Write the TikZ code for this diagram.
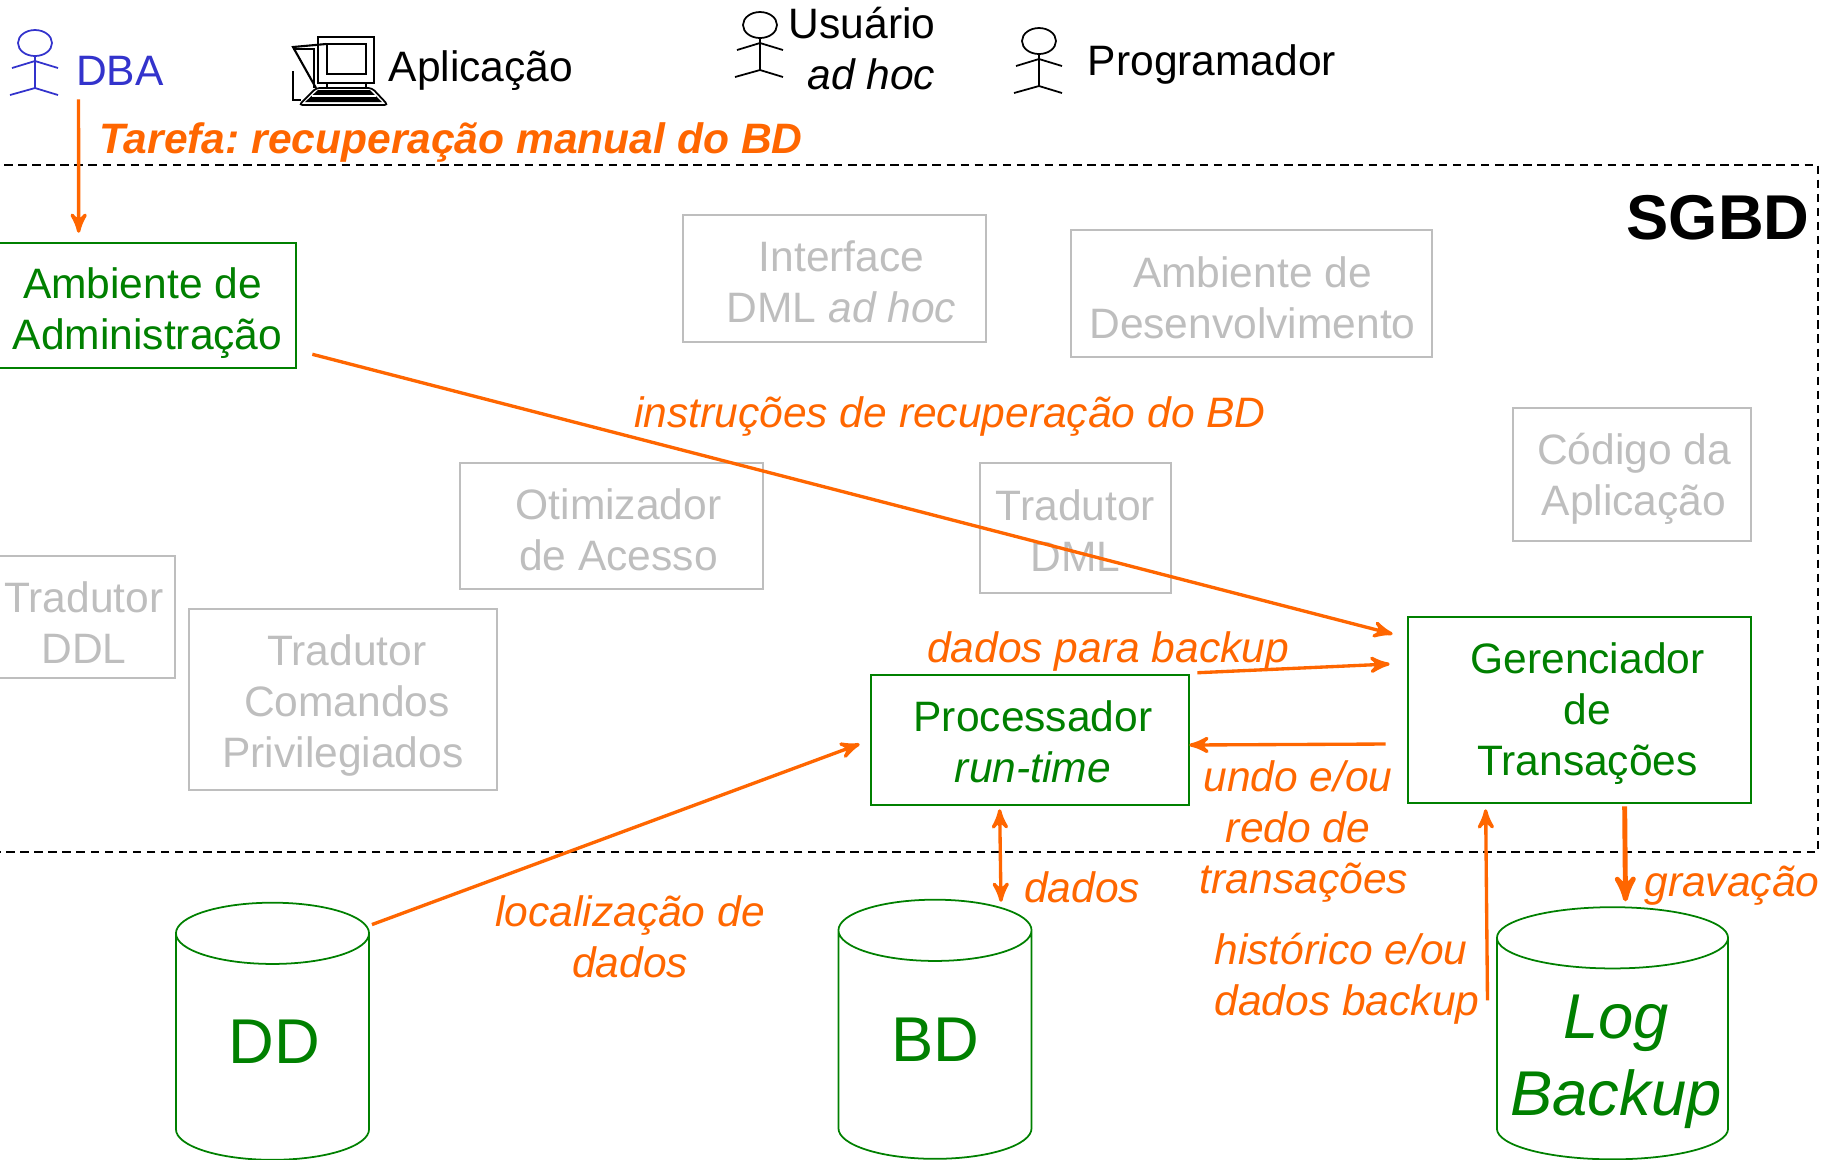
\documentclass[tikz,border=0pt]{standalone}
\usepackage{fontspec}
\setmainfont{Liberation Sans}
\usetikzlibrary{calc}
\usetikzlibrary{arrows}
\usetikzlibrary{shapes.geometric}
\definecolor{flowc}{RGB}{255,102,0}
\definecolor{activec}{RGB}{0,128,0}
\definecolor{idlec}{RGB}{190,190,190}
\definecolor{dbac}{RGB}{51,51,204}
\tikzset{>=stealth'}
\tikzset{lab/.style={inner sep=0pt, font=\fontsize{12.1}{14.5}\selectfont, align=center}}
\tikzset{flowlab/.style={lab, text=flowc, font=\fontsize{12.1}{14.5}\selectfont\itshape}}
\tikzset{activebox/.style={draw=activec, line width=0.7pt, inner sep=0pt}}
\tikzset{idlebox/.style={draw=idlec, line width=0.7pt, inner sep=0pt}}
\tikzset{activelab/.style={lab, text=activec}}
\tikzset{idlelab/.style={lab, text=idlec}}
\tikzset{flow/.style={draw=flowc, line width=0.95pt}}
\tikzset{store/.style={draw=activec, line width=0.5pt, inner sep=0pt, cylinder,
    shape border rotate=90, aspect=0.67, minimum width=1.93cm}}
\tikzset{storelab/.style={inner sep=0pt, text=activec, font=\fontsize{18}{22}\selectfont, align=center}}
\tikzset{actor/.pic={
    \draw[#1, line width=0.5pt] (0,0) ellipse [x radius=17, y radius=13];
    \draw[#1, line width=0.5pt] (0,13) -- (0,45);
    \draw[#1, line width=0.5pt] (-23,25) -- (0,18) -- (23,25);
    \draw[#1, line width=0.5pt] (-25,52) -- (0,45) -- (23,52);
}}

\begin{document}
\frenchspacing
\begin{tikzpicture}[x=0.01cm, y=-0.01cm]
\useasboundingbox (0,0) rectangle (1829,1159);

\draw[dashed, line width=0.45pt, dash pattern=on 2.4pt off 1.6pt] (-10,165) -- (1818,165) -- (1818,852) -- (-10,852);
\node[inner sep=0pt, font=\fontsize{18}{22}\selectfont\bfseries] (sgbd) at (1718,218) {SGBD};

\pic at (35,43) {actor=dbac};
\pic at (760,25) {actor=black};
\pic at (1039,41) {actor=black};

\node[lab, text=dbac] (dba) at (120,71) {DBA};
\node[lab] (aplic) at (481,71) {Aplicação};
\node[lab, align=right] (usuario) at (862,49) {Usuário\\\textit{ad hoc}};
\node[lab] (prog) at (1212,64) {Programador};

\draw[line width=0.7pt] (318,37) rectangle (374,83);
\draw[line width=0.7pt] (327,44) rectangle (366,74);
\draw[line width=0.7pt] (327,83) -- (327,89);
\draw[line width=0.7pt] (366,83) -- (366,89);
\draw[line width=0.6pt] (326,44) -- (293,47) -- (316,88);
\draw[line width=0.6pt] (293,49) -- (314,49) -- (314,88);
\draw[line width=0.7pt] (293,71) -- (293,100) -- (301,100);
\draw[line width=0.5pt, rounded corners=1pt] (299,105) -- (388,105) -- (372,88) -- (316,88) -- cycle;
\fill (305,102) -- (382,102) -- (370,90) -- (318,90) -- cycle;
\draw[white, line width=0.3pt] (312,96) -- (376,96);

\node[flowlab, font=\fontsize{12.1}{14.5}\selectfont\bfseries\itshape] (tarefa) at (451,142) {Tarefa: recuperação manual do BD};

\node[activebox, minimum width=3.01cm, minimum height=1.25cm] (admin) at (145.5,305.5) {};
\node[activelab] (admintxt) at ($(admin)+(2,8)$) {Ambiente de\hspace*{0.1cm}\\Administração};
\node[idlebox, minimum width=3.03cm, minimum height=1.27cm] (iface) at (834.5,278.5) {};
\node[idlelab] (ifacetxt) at ($(iface)+(7,3)$) {Interface\\DML \textit{ad hoc}};
\node[idlebox, minimum width=3.61cm, minimum height=1.27cm] (amb) at (1251.5,293.5) {};
\node[idlelab] (ambtxt) at ($(amb)+(1,4)$) {Ambiente de\\Desenvolvimento};
\node[idlebox, minimum width=2.38cm, minimum height=1.33cm] (codigo) at (1632,474.5) {};
\node[idlelab] (codigotxt) at ($(codigo)+(2,4)$) {Código da\\Aplicação};
\node[idlebox, minimum width=3.03cm, minimum height=1.26cm] (otim) at (611.5,526) {};
\node[idlelab] (otimtxt) at ($(otim)+(7,4)$) {Otimizador\\de Acesso};
\node[idlebox, minimum width=1.91cm, minimum height=1.30cm] (dml) at (1075.5,528) {};
\node[idlelab] (dmltxt) at ($(dml)+(0,3)$) {Tradutor\\DML};
\node[idlebox, minimum width=1.82cm, minimum height=1.22cm] (ddl) at (84,617) {};
\node[idlelab] (ddltxt) at ($(ddl)+(0,6)$) {Tradutor\\DDL};
\node[idlebox, minimum width=3.08cm, minimum height=1.81cm] (cmd) at (343,699.5) {};
\node[idlelab] (cmdtxt) at ($(cmd)+(4,6)$) {Tradutor\\Comandos\\Privilegiados\hspace*{0.08cm}};
\node[activebox, minimum width=3.18cm, minimum height=1.30cm] (proc) at (1030,740) {};
\node[activelab] (proctxt) at ($(proc)+(3,2)$) {Processador\\\textit{run-time}};
\node[activebox, minimum width=3.43cm, minimum height=1.86cm] (ger) at (1579.5,710) {};
\node[activelab] (gertxt) at ($(ger)+(8,4)$) {Gerenciador\\de\\Transações};

\node[store, minimum height=2.57cm] (dd) at (272.5,1047) {\phantom{\rule{26pt}{13pt}}};
\node[storelab] (ddtxt) at (274.5,1042) {DD};
\node[store, minimum height=2.59cm] (bd) at (935,1045) {\phantom{\rule{26pt}{13pt}}};
\node[storelab] (bdtxt) at (935,1040) {BD};
\node[store, minimum width=2.31cm, minimum height=2.52cm] (log) at (1612.5,1049) {\phantom{\rule{26pt}{13pt}}};
\node[storelab, font=\fontsize{18}{22}\selectfont\itshape] (logtxt) at (1616,1062) {Log\\Backup};

\node[flowlab] (lrec) at (950,416) {instruções de recuperação do BD};
\node[flowlab] (lbak) at (1108,651) {dados para backup};
\node[flowlab] (lundo) at (1298,831) {undo e/ou\\redo de\\\hspace*{0.12cm}transações};
\node[flowlab] (lloc) at (630,937) {localização de\\dados};
\node[flowlab] (ldad) at (1082,887) {dados};
\node[flowlab, align=left] (lhist) at (1347,979) {histórico e/ou\\dados backup};
\node[flowlab] (lgrav) at (1732,886) {gravação};

\draw[->, flow] ($(dba.south west)+(3,13)$) -- ($(admin.north west)+(85,-9)$);
\draw[->, flow] ($(admin.south east)+(15,-15)$) -- ($(ger.west)+(-14,-76)$);
\draw[->, flow] ($(proc.north east)+(7,-1)$) -- ($(ger.west)+(-17,-46)$);
\draw[->, flow] ($(ger.west)+(-21,34)$) -- ($(proc.east)+(-1,5)$);
\draw[->, flow] ($(dd.north east)+(2,-25)$) -- ($(proc.west)+(-10,4)$);
\draw[<->, flow] ($(proc.south west)+(130,3)$) -- ($(bd.north)+(66,3)$);
\draw[->, flow] ($(log.north)+(-125,94)$) -- ($(ger.south west)+(79,5)$);
\draw[->, flow, line width=1.4pt] ($(ger.south west)+(218,2)$) -- ($(log.north)+(13,-5)$);
\end{tikzpicture}
\end{document}
